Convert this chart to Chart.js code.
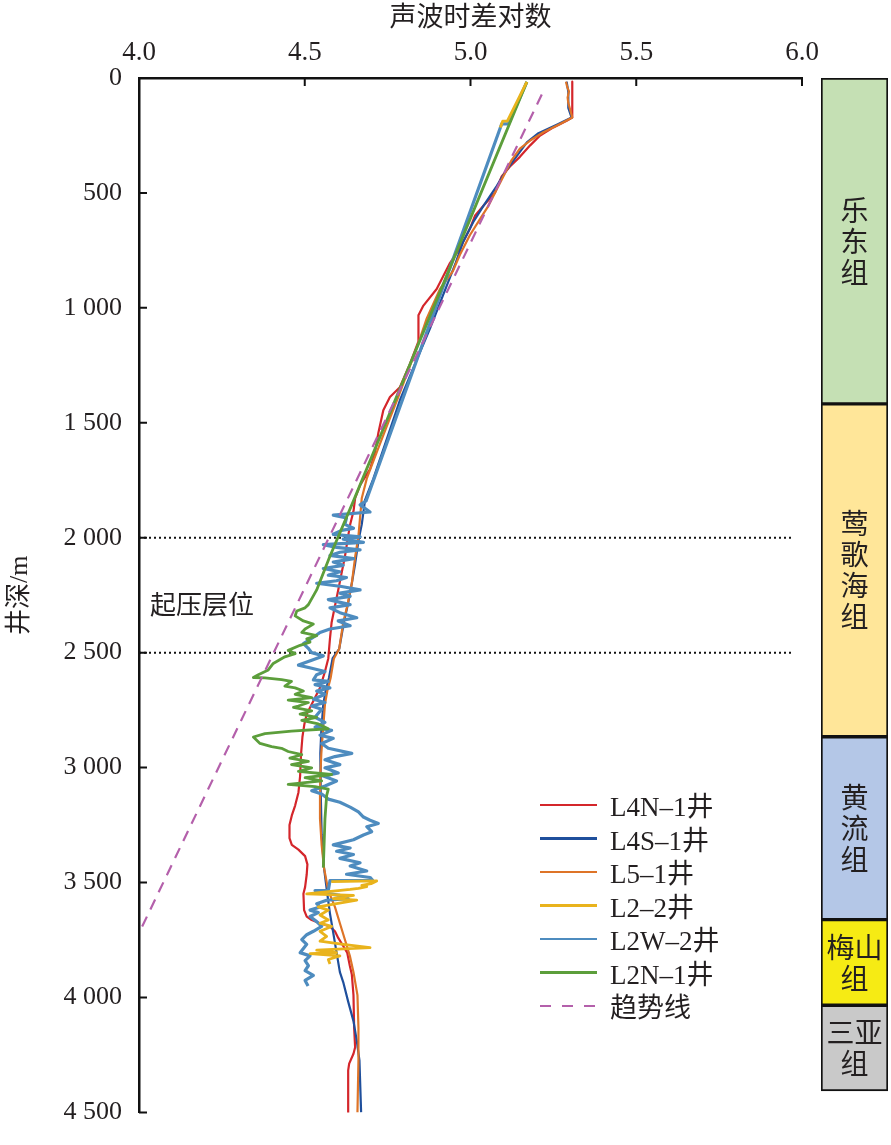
<!DOCTYPE html>
<html>
<head>
<meta charset="utf-8">
<script src="https://cdn.jsdelivr.net/npm/chart.js@4"></script>
<style>
  html, body { margin: 0; padding: 0; background: #fff; }
  #wrap { position: relative; width: 891px; height: 1145px; overflow: hidden; }
  #mainBox { position: absolute; left: 0; top: 0; width: 891px; height: 1145px; }
  #colBox { position: absolute; left: 815px; top: 0; width: 76px; height: 1145px; }
  #legend { position: absolute; left: 540px; top: 788px; color: #231f20;
            font-family: "Liberation Serif", "Noto Sans CJK SC", serif; font-size: 27px; }
  .row { height: 33.5px; display: flex; align-items: center; }
  .swatch { width: 57px; height: 2.5px; margin-right: 13px; }
  #note { position: absolute; left: 150px; top: 587px; font-size: 26px; color: #231f20;
          font-family: "Noto Sans CJK SC", sans-serif; line-height: 32px; }
</style>
</head>
<body>
<div id="wrap">
  <div id="mainBox"><canvas id="mainChart"></canvas></div>
  <div id="colBox"><canvas id="colChart"></canvas></div>
  <div id="note">起压层位</div>
  <div id="legend"></div>
</div>
<script>
// ------------------------------
// Data: [depth m, log of sonic transit time]
// ------------------------------
const xTickLabels = ["4.0", "4.5", "5.0", "5.5", "6.0"];
const depthTickLabels = ["0", "500", "1 000", "1 500", "2 000", "2 500", "3 000", "3 500", "4 000", "4 500"];

const l4n1 = [
  [16, 5.307], [172, 5.307], [186, 5.290], [215, 5.250], [250, 5.210], [293, 5.180], [343, 5.149],
  [385, 5.119], [428, 5.094], [499, 5.074], [556, 5.039], [598, 5.014], [656, 4.998], [741, 4.968],
  [805, 4.938], [918, 4.898], [990, 4.858], [1032, 4.843], [1146, 4.843], [1245, 4.817], [1345, 4.787],
  [1388, 4.757], [1445, 4.737], [1544, 4.722], [1629, 4.712], [1701, 4.697], [1771, 4.667], [1828, 4.652],
  [1885, 4.647], [1942, 4.637], [1992, 4.631], [2084, 4.621], [2155, 4.611], [2227, 4.601], [2298, 4.591],
  [2369, 4.581], [2440, 4.576], [2525, 4.571], [2582, 4.561], [2653, 4.546], [2724, 4.521], [2767, 4.506],
  [2810, 4.499], [2867, 4.493], [2938, 4.489], [3037, 4.486], [3108, 4.481], [3165, 4.471], [3208, 4.461],
  [3250, 4.454], [3307, 4.454], [3336, 4.461], [3357, 4.481], [3385, 4.501], [3421, 4.508], [3464, 4.506],
  [3520, 4.501], [3549, 4.496], [3620, 4.498], [3648, 4.506], [3663, 4.521], [3677, 4.546], [3691, 4.576],
  [3712, 4.591], [3741, 4.601], [3776, 4.616], [3805, 4.628], [3862, 4.636], [3900, 4.642], [3990, 4.647],
  [4132, 4.649], [4217, 4.652], [4245, 4.647], [4288, 4.634], [4317, 4.631], [4500, 4.631]
];

const l4s1 = [
  [16, 5.290], [60, 5.295], [130, 5.295], [172, 5.305], [200, 5.265], [240, 5.205], [280, 5.170],
  [321, 5.149], [400, 5.109], [470, 5.079], [556, 5.039], [627, 5.008], [712, 4.978], [805, 4.955],
  [1089, 4.878], [1260, 4.828], [1402, 4.787], [1573, 4.747], [1743, 4.707], [1835, 4.682], [1942, 4.672],
  [2013, 4.662], [2113, 4.652], [2198, 4.642], [2284, 4.631], [2369, 4.618], [2483, 4.604], [2525, 4.584],
  [2610, 4.573], [2667, 4.563], [2724, 4.556], [2838, 4.550], [2938, 4.547], [3094, 4.548], [3293, 4.551],
  [3435, 4.558], [3549, 4.568], [3634, 4.576], [3719, 4.586], [3805, 4.596], [3890, 4.606], [3933, 4.616],
  [4018, 4.631], [4103, 4.647], [4189, 4.657], [4274, 4.665], [4500, 4.670]
];

const l51 = [
  [16, 5.288], [40, 5.292], [58, 5.297], [85, 5.293], [108, 5.295], [172, 5.307], [200, 5.270],
  [236, 5.220], [272, 5.180], [307, 5.149], [357, 5.124], [414, 5.104], [485, 5.079], [556, 5.054],
  [613, 5.029], [684, 4.998], [769, 4.968], [840, 4.947], [918, 4.908], [1046, 4.868], [1174, 4.838],
  [1288, 4.808], [1388, 4.782], [1516, 4.747], [1629, 4.717], [1743, 4.687], [1828, 4.672], [1992, 4.662],
  [2084, 4.652], [2198, 4.642], [2298, 4.628], [2369, 4.616], [2483, 4.604], [2525, 4.588], [2610, 4.578],
  [2667, 4.568], [2724, 4.561], [2838, 4.555], [2938, 4.550], [3037, 4.547], [3122, 4.546], [3222, 4.546],
  [3336, 4.551], [3435, 4.558], [3535, 4.571], [3606, 4.591], [3677, 4.606], [3748, 4.621], [3819, 4.636],
  [3890, 4.647], [3990, 4.659], [4132, 4.662], [4274, 4.662], [4500, 4.659]
];

// upper section of L2-2 is hidden under L2W-2, null breaks the line
const l22 = [
  [17, 5.170], [188, 5.111], [188, 5.097], [215, 5.090], [null, null],
  [3496, 4.580], [3493, 4.717], [3505, 4.700], [3512, 4.672], [3518, 4.687], [3525, 4.662], [3530, 4.637],
  [3549, 4.506], [3556, 4.647], [3570, 4.586], [3577, 4.657], [3592, 4.596], [3606, 4.541], [3620, 4.571],
  [3641, 4.546], [3663, 4.571], [3677, 4.546], [3691, 4.581], [3712, 4.546], [3734, 4.566], [3755, 4.546],
  [3769, 4.616], [3783, 4.697], [3794, 4.536], [3805, 4.596], [3809, 4.516], [3819, 4.606], [3835, 4.571],
  [3854, 4.576]
];

const l2w2 = [
  [17, 5.170], [200, 5.114], [200, 5.094], [1840, 4.685], [1857, 4.667], [1888, 4.697], [1902, 4.586],
  [1914, 4.626], [1942, 4.621], [1959, 4.647], [1968, 4.611], [1985, 4.586], [1996, 4.667], [2006, 4.616],
  [2020, 4.677], [2030, 4.556], [2042, 4.596], [2053, 4.667], [2063, 4.606], [2077, 4.576], [2091, 4.647],
  [2106, 4.586], [2120, 4.616], [2134, 4.556], [2148, 4.606], [2163, 4.571], [2173, 4.626], [2187, 4.596],
  [2198, 4.536], [2212, 4.611], [2227, 4.667], [2241, 4.606], [2255, 4.637], [2269, 4.571], [2291, 4.637],
  [2305, 4.576], [2326, 4.606], [2348, 4.657], [2362, 4.601], [2383, 4.637], [2397, 4.576], [2412, 4.546],
  [2433, 4.526], [2461, 4.496], [2480, 4.510], [2500, 4.521], [2514, 4.556], [2533, 4.521], [2554, 4.481],
  [2568, 4.521], [2582, 4.561], [2596, 4.536], [2618, 4.526], [2625, 4.571], [2639, 4.531], [2653, 4.576],
  [2667, 4.536], [2681, 4.561], [2703, 4.526], [2717, 4.561], [2732, 4.521], [2746, 4.551], [2781, 4.531],
  [2803, 4.561], [2824, 4.531], [2838, 4.581], [2859, 4.546], [2873, 4.586], [2895, 4.551], [2916, 4.571],
  [2938, 4.642], [2952, 4.591], [2966, 4.561], [2987, 4.606], [3001, 4.561], [3023, 4.601], [3037, 4.556],
  [3058, 4.596], [3080, 4.561], [3101, 4.521], [3115, 4.551], [3137, 4.571], [3151, 4.606], [3172, 4.637],
  [3193, 4.662], [3215, 4.677], [3229, 4.697], [3243, 4.722], [3257, 4.687], [3279, 4.702], [3293, 4.677],
  [3314, 4.647], [3336, 4.586], [3350, 4.637], [3364, 4.596], [3378, 4.647], [3395, 4.606], [3414, 4.667],
  [3428, 4.637], [3450, 4.687], [3464, 4.626], [3478, 4.697], [3490, 4.705], [3492, 4.576], [3535, 4.571],
  [3535, 4.531], [3549, 4.576], [3556, 4.606], [3570, 4.631], [3577, 4.566], [3592, 4.536], [3606, 4.546],
  [3620, 4.516], [3631, 4.541], [3648, 4.516], [3670, 4.536], [3691, 4.551], [3712, 4.526], [3727, 4.506],
  [3748, 4.491], [3769, 4.506], [3805, 4.486], [3819, 4.516], [3840, 4.501], [3862, 4.511], [3883, 4.501],
  [3904, 4.526], [3926, 4.501], [3950, 4.510]
];

const l2n1 = [
  [17, 5.170], [826, 4.938], [1843, 4.646], [2084, 4.575], [2227, 4.536], [2291, 4.511], [2305, 4.501],
  [2319, 4.476], [2340, 4.471], [2362, 4.496], [2376, 4.526], [2397, 4.501], [2412, 4.491], [2426, 4.536],
  [2440, 4.506], [2454, 4.516], [2468, 4.486], [2490, 4.450], [2504, 4.471], [2518, 4.440], [2547, 4.405],
  [2575, 4.390], [2596, 4.360], [2608, 4.345], [2610, 4.380], [2617, 4.430], [2625, 4.460], [2646, 4.440],
  [2653, 4.471], [2667, 4.496], [2681, 4.471], [2696, 4.521], [2706, 4.450], [2717, 4.511], [2732, 4.481],
  [2738, 4.466], [2753, 4.521], [2767, 4.486], [2781, 4.536], [2795, 4.491], [2810, 4.541], [2831, 4.571],
  [2841, 4.460], [2852, 4.380], [2867, 4.345], [2895, 4.365], [2909, 4.400], [2916, 4.430], [2930, 4.450],
  [2944, 4.491], [2959, 4.455], [2973, 4.511], [2987, 4.460], [3001, 4.521], [3016, 4.481], [3030, 4.581],
  [3044, 4.501], [3058, 4.551], [3073, 4.450], [3083, 4.531], [3094, 4.571], [3122, 4.566], [3222, 4.561],
  [3435, 4.556]
];

const trend = [[72, 5.215], [3720, 4.0]];
const ref2000 = [[2000, 4.0], [2000, 5.97]];
const ref2500 = [[2500, 4.0], [2500, 5.97]];

// formation column
const formationNames = ["乐东组", "莺歌海组", "黄流组", "梅山组", "三亚组"];
const formationLines = [["乐", "东", "组"], ["莺", "歌", "海", "组"], ["黄", "流", "组"], ["梅山", "组"], ["三亚", "组"]];
const formationTop = [0, 1390, 2810, 3590, 3955];
const formationBottom = [1390, 2810, 3590, 3955, 4320];
const formationColors = ["#c5e0b4", "#ffe699", "#b4c7e7", "#f6eb14", "#c9c9c9"];

// ------------------------------
// Chart.js code
// ------------------------------
const latin = '"Liberation Serif", "Noto Sans CJK SC", serif';
const ink = "#231f20";
const toPoints = arr => arr.map(([d, v]) => ({ x: v, y: d }));

const series = [
  { label: "L4N–1井", data: l4n1, color: "#d4262b", width: 2.2, order: 6 },
  { label: "L4S–1井", data: l4s1, color: "#1f4f9c", width: 2.2, order: 5 },
  { label: "L5–1井", data: l51, color: "#de7428", width: 2.2, order: 4 },
  { label: "L2–2井", data: l22, color: "#e9b31c", width: 2.8, order: 1 },
  { label: "L2W–2井", data: l2w2, color: "#4e8cbf", width: 3.2, order: 3 },
  { label: "L2N–1井", data: l2n1, color: "#5c9e3b", width: 2.8, order: 2 },
  { label: "趋势线", data: trend, color: "#b460ab", width: 2.2, order: 0, dash: [11, 8] }
];

const datasets = series.map(s => ({
  label: s.label,
  data: toPoints(s.data),
  showLine: true,
  borderColor: s.color,
  backgroundColor: s.color,
  borderWidth: s.width,
  borderDash: s.dash || [],
  borderJoinStyle: "round",
  pointRadius: 0,
  order: s.order
}));

[ref2000, ref2500].forEach(r => datasets.push({
  label: "",
  data: toPoints(r),
  showLine: true,
  borderColor: "#111",
  borderWidth: 2,
  borderDash: [2, 3],
  pointRadius: 0,
  order: 7
}));

// tick marks pointing into the plot
const innerTicks = {
  id: "innerTicks",
  afterDraw(chart) {
    const { ctx, chartArea, scales: { x, y } } = chart;
    ctx.save();
    ctx.strokeStyle = "#111";
    ctx.lineWidth = 2;
    ctx.beginPath();
    x.ticks.forEach(t => {
      const px = x.getPixelForValue(t.value);
      ctx.moveTo(px, chartArea.top);
      ctx.lineTo(px, chartArea.top + 8);
    });
    y.ticks.forEach(t => {
      const py = y.getPixelForValue(t.value);
      ctx.moveTo(chartArea.left, py);
      ctx.lineTo(chartArea.left + 8, py);
    });
    ctx.stroke();
    ctx.restore();
  }
};

new Chart(document.getElementById("mainChart"), {
  type: "scatter",
  data: { datasets },
  options: {
    responsive: true,
    maintainAspectRatio: false,
    animation: false,
    layout: { padding: { left: 0, top: 0, right: 89, bottom: 12 } },
    plugins: { legend: { display: false }, tooltip: { enabled: false } },
    scales: {
      x: {
        type: "linear",
        position: "top",
        min: 4,
        max: 6,
        afterFit: s => { s.height = 78; },
        ticks: {
          stepSize: 0.5,
          autoSkip: false,
          maxRotation: 0,
          padding: 9,
          color: ink,
          font: { family: latin, size: 27 },
          callback: v => xTickLabels[Math.round((v - 4) / 0.5)]
        },
        grid: { display: false, drawTicks: false },
        border: { display: true, color: "#111", width: 2.5 },
        title: {
          display: true,
          text: "声波时差对数",
          color: ink,
          font: { family: latin, size: 27 },
          padding: { top: 3, bottom: 0 }
        }
      },
      y: {
        type: "linear",
        reverse: true,
        min: 0,
        max: 4500,
        afterFit: s => { s.width = 139; },
        ticks: {
          stepSize: 500,
          autoSkip: false,
          padding: 17,
          color: ink,
          font: { family: latin, size: 26 },
          callback: v => depthTickLabels[Math.round(v / 500)]
        },
        grid: { display: false, drawTicks: false },
        border: { display: true, color: "#111", width: 2.5 },
        title: {
          display: true,
          text: "井深/m",
          color: ink,
          font: { family: latin, size: 26 },
          padding: { top: 5, bottom: 0 }
        }
      }
    }
  },
  plugins: [innerTicks]
});

// legend
const legend = document.getElementById("legend");
series.forEach(s => {
  const row = document.createElement("div");
  row.className = "row";
  const sw = document.createElement("div");
  sw.className = "swatch";
  sw.style.background = s.dash
    ? `repeating-linear-gradient(to right, ${s.color} 0 11px, transparent 11px 22px)`
    : s.color;
  const tx = document.createElement("span");
  tx.textContent = s.label;
  row.appendChild(sw);
  row.appendChild(tx);
  legend.appendChild(row);
});

// formation column as floating bars on the same depth range
const formationText = {
  id: "formationText",
  afterDatasetsDraw(chart) {
    const ctx = chart.ctx;
    ctx.save();
    ctx.fillStyle = ink;
    ctx.font = '28px "Noto Sans CJK SC", sans-serif';
    ctx.textAlign = "center";
    ctx.textBaseline = "middle";
    chart.data.datasets.forEach((ds, i) => {
      const bar = chart.getDatasetMeta(i).data[0];
      const lines = formationLines[i];
      const cy = (bar.y + bar.base) / 2;
      lines.forEach((line, k) => {
        ctx.fillText(line, bar.x, cy + (k - (lines.length - 1) / 2) * 31);
      });
    });
    ctx.restore();
  }
};

new Chart(document.getElementById("colChart"), {
  type: "bar",
  data: {
    labels: ["地层"],
    datasets: formationNames.map((n, i) => ({
      label: n,
      data: [[formationTop[i], formationBottom[i]]],
      backgroundColor: formationColors[i],
      borderColor: "#111",
      borderWidth: 2,
      borderSkipped: false,
      grouped: false,
      barPercentage: 1,
      categoryPercentage: 1
    }))
  },
  options: {
    responsive: true,
    maintainAspectRatio: false,
    animation: false,
    layout: { padding: { left: 6, right: 3, top: 78, bottom: 12 } },
    plugins: { legend: { display: false }, tooltip: { enabled: false } },
    scales: {
      x: { display: false },
      y: { display: false, min: 0, max: 4500, reverse: true }
    }
  },
  plugins: [formationText]
});
</script>
</body>
</html>
